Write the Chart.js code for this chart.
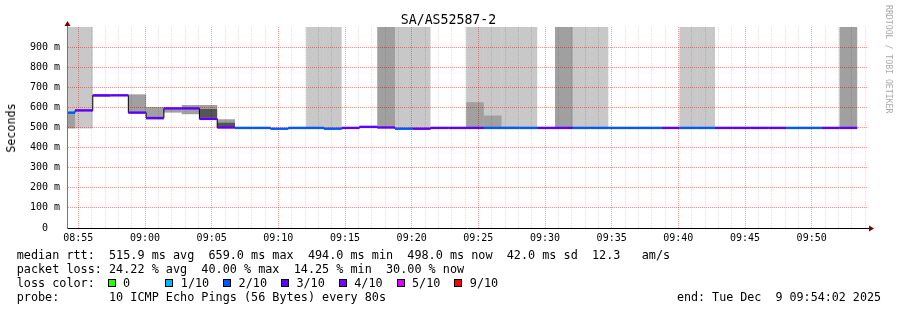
<!DOCTYPE html>
<html>
<head>
<meta charset="utf-8">
<script src="https://cdn.jsdelivr.net/npm/chart.js@4.4.1/dist/chart.umd.min.js"></script>
<style>
  html, body { margin: 0; padding: 0; background: #fff; }
  #wrap { position: relative; width: 897px; height: 310px; font-family: 'DejaVu Sans Mono', monospace; color: #000; overflow: hidden; }
  #wrap canvas { position: absolute; left: 0; top: 0; }
  .title { position: absolute; left: 0; width: 897px; top: 12px; text-align: center; font-size: 13.2px; line-height: 16px; }
  .ylabel { position: absolute; left: 10.5px; top: 127.5px; transform: translate(-50%, -50%) rotate(-90deg); font-size: 11.7px; white-space: nowrap; }
  .watermark { position: absolute; left: 884px; top: 5px; writing-mode: vertical-rl; font-size: 8.2px; line-height: 9px; color: #aaa; white-space: nowrap; }
  .legend { position: absolute; left: 16.7px; top: 248px; font-size: 11.8px; line-height: 14px; white-space: pre; }
  .end { position: absolute; right: 16px; top: 290px; font-size: 11.7px; line-height: 14px; white-space: pre; }
  .box { position: absolute; width: 8px; height: 8px; border: 1px solid #000; box-sizing: border-box; top: 278.5px; }
  .boxlabel { position: absolute; top: 276px; font-size: 11.8px; line-height: 14px; white-space: pre; }
</style>
</head>
<body>
<div id="wrap">
  <canvas id="chart" width="897" height="310"></canvas>
  <div class="title">SA/AS52587-2</div>
  <div class="ylabel">Seconds</div>
  <div class="watermark">RRDTOOL / TOBI OETIKER</div>
  <div class="legend" id="legend"></div>
  <div class="end">end: Tue Dec  9 09:54:02 2025</div>
</div>
<script>
// time range shown and rrd step
const rangeStart = '08:54:09';
const rangeSeconds = 3600;
const firstStepStart = '08:53:25';
const stepSeconds = 80;

const xTickLabels = ['08:55', '09:00', '09:05', '09:10', '09:15', '09:20', '09:25', '09:30', '09:35', '09:40', '09:45', '09:50'];
const yTickValues = [0, 100, 200, 300, 400, 500, 600, 700, 800, 900];
const yTickLabels = ['0  ', '100 m', '200 m', '300 m', '400 m', '500 m', '600 m', '700 m', '800 m', '900 m'];
const yMax = 1000;

// median rtt per step (ms)
const medianRtt = [
  574, 585, 660, 660, 574, 547, 595, 595, 543, 500,
  498, 498, 494, 498, 498, 494, 498, 503, 500, 494,
  494, 498, 498, 498, 498, 498, 498, 498, 498, 498,
  498, 498, 498, 498, 498, 498, 498, 498, 498, 498,
  498, 498, 498, 498, 498,
];
// lost pings per step (out of 10)
const lossTenths = [
  2, 3, 3, 3, 3, 3, 3, 3, 3, 3,
  2, 2, 2, 2, 2, 2, 3, 3, 3, 2,
  3, 3, 3, 3, 2, 2, 2, 3, 3, 2,
  2, 2, 2, 2, 3, 2, 2, 3, 3, 3,
  3, 2, 2, 3, 3,
];
// smoke: [step, low ms, high ms]
const smokeLight = [
  [0, 574, 1000], [1, 495, 1000], [14, 497, 1000], [15, 497, 1000], [19, 495, 1000], [20, 495, 1000],
  [23, 626, 1000], [24, 560, 1000], [25, 505, 1000], [26, 498, 1000], [29, 498, 1000], [30, 498, 1000],
  [35, 498, 1000], [36, 498, 1000],
];
const smokeMid = [
  [0, 495, 574], [2, 652, 660], [4, 574, 665], [5, 540, 602], [6, 574, 592], [7, 566, 612],
  [8, 592, 612], [9, 525, 541], [18, 500, 1000], [23, 498, 626], [24, 498, 560], [25, 498, 505],
  [28, 498, 1000], [44, 498, 1000],
];
const smokeDark = [
  [8, 548, 592], [9, 500, 525],
];

const lossLabels = ['0', '1/10', '2/10', '3/10', '4/10', '5/10', '9/10'];
const lossColors = ['#26ff00', '#00b8ff', '#0059ff', '#5e00ff', '#7e00ff', '#dd00ff', '#ff0000'];
const lossIndex = [0, 1, 2, 3, 4, 5, 5, 5, 5, 6, 6];

const legendRows = [
  'median rtt:  515.9 ms avg  659.0 ms max  494.0 ms min  498.0 ms now  42.0 ms sd  12.3   am/s',
  'packet loss: 24.22 % avg  40.00 % max  14.25 % min  30.00 % now',
  'loss color:',
  'probe:       10 ICMP Echo Pings (56 Bytes) every 80s',
];

// legend text
const wrap = document.getElementById('wrap');
document.getElementById('legend').textContent = legendRows.join('\n');
lossLabels.forEach((label, i) => {
  const box = document.createElement('div');
  box.className = 'box';
  box.style.left = (107.5 + 57.8 * i) + 'px';
  box.style.background = lossColors[i];
  wrap.appendChild(box);
  const txt = document.createElement('div');
  txt.className = 'boxlabel';
  txt.style.left = (123 + 57.8 * i) + 'px';
  txt.textContent = label;
  wrap.appendChild(txt);
});

const toSec = t => {
  const [h, m, s = 0] = t.split(':').map(Number);
  return h * 3600 + m * 60 + s;
};
const t0 = toSec(rangeStart);
const stepStart = s => toSec(firstStepStart) - t0 + s * stepSeconds;
const majorTicks = xTickLabels.map(l => toSec(l) - t0);
const minorTicks = [];
for (let t = majorTicks[0]; t <= rangeSeconds; t += 60) minorTicks.push(t);

const plotWidth = 800;
const stepPx = stepSeconds * plotWidth / rangeSeconds;

const majorGrid = 'rgba(255,0,0,0.4)';
const minorGrid = 'rgba(130,130,130,0.25)';
const medianColor = s => lossColors[lossIndex[lossTenths[s]]];

function smokeDataset(rows, color, order) {
  return {
    type: 'bar',
    data: rows.map(([s, lo, hi]) => ({ x: stepStart(s) + stepSeconds / 2, y: [lo, hi] })),
    backgroundColor: color,
    borderWidth: 0,
    inflateAmount: 0,
    grouped: false,
    barThickness: stepPx,
    order,
    clip: 0,
  };
}

// median line, one flat piece per step
const medianSegments = [];
medianRtt.forEach((v, s) => {
  medianSegments.push({ x: stepStart(s), y: v }, { x: stepStart(s + 1), y: v }, { x: stepStart(s + 1), y: null });
});
// thin black connector between steps
const medianSteps = medianRtt.map((v, s) => ({ x: stepStart(s), y: v }));
medianSteps.push({ x: stepStart(medianRtt.length), y: medianRtt[medianRtt.length - 1] });

const axisArrows = {
  id: 'axisArrows',
  afterDraw(chart) {
    const { ctx, chartArea: a } = chart;
    ctx.save();
    ctx.lineWidth = 1;
    ctx.strokeStyle = '#777';
    ctx.beginPath();
    ctx.moveTo(a.left + 0.5, a.top);
    ctx.lineTo(a.left + 0.5, a.top - 2);
    ctx.stroke();
    ctx.strokeStyle = '#000';
    ctx.beginPath();
    ctx.moveTo(a.right, a.bottom + 0.5);
    ctx.lineTo(a.right + 2, a.bottom + 0.5);
    ctx.stroke();
    ctx.fillStyle = '#7f0000';
    ctx.beginPath();
    ctx.moveTo(a.left - 2.5, a.top - 1);
    ctx.lineTo(a.left + 3.5, a.top - 1);
    ctx.lineTo(a.left + 0.5, a.top - 6);
    ctx.closePath();
    ctx.fill();
    ctx.beginPath();
    ctx.moveTo(a.right + 2, a.bottom - 2.5);
    ctx.lineTo(a.right + 2, a.bottom + 3.5);
    ctx.lineTo(a.right + 7, a.bottom + 0.5);
    ctx.closePath();
    ctx.fill();
    ctx.restore();
  },
};

Chart.defaults.font.family = "'DejaVu Sans Mono', monospace";
Chart.defaults.color = '#000';

new Chart(document.getElementById('chart'), {
  type: 'line',
  data: {
    datasets: [
      {
        type: 'line',
        data: medianSegments,
        borderWidth: 2.4,
        borderColor: lossColors[3],
        spanGaps: false,
        pointRadius: 0,
        segment: { borderColor: c => medianColor(Math.floor(c.p0DataIndex / 3)) },
        order: 0,
        clip: 0,
      },
      {
        type: 'line',
        data: medianSteps,
        stepped: true,
        borderWidth: 1,
        borderColor: '#000',
        pointRadius: 0,
        order: 1,
        clip: 0,
      },
      smokeDataset(smokeDark, 'rgba(0,0,0,0.667)', 2),
      smokeDataset(smokeMid, 'rgba(0,0,0,0.373)', 3),
      smokeDataset(smokeLight, 'rgba(0,0,0,0.216)', 4),
    ],
  },
  options: {
    responsive: false,
    animation: false,
    events: [],
    layout: { padding: { top: 27, right: 30, left: 0, bottom: 0 } },
    plugins: { legend: { display: false }, tooltip: { enabled: false } },
    scales: {
      x: {
        type: 'linear',
        min: 0,
        max: rangeSeconds,
        offset: false,
        afterFit: s => { s.height = 82; },
        afterBuildTicks: s => { s.ticks = minorTicks.map(v => ({ value: v })); },
        ticks: {
          autoSkip: false,
          maxRotation: 0,
          padding: 4,
          font: { size: 10 },
          callback: v => {
            const i = majorTicks.indexOf(v);
            return i >= 0 ? xTickLabels[i] : '';
          },
        },
        grid: {
          drawTicks: false,
          offset: false,
          color: c => (c.tick && majorTicks.includes(c.tick.value) ? majorGrid : minorGrid),
        },
        border: { color: '#000', dash: [1, 1], z: 2 },
      },
      y: {
        min: 0,
        max: yMax,
        afterFit: s => { s.width = 67; },
        afterBuildTicks: s => {
          const t = [];
          for (let v = 0; v < yMax; v += 50) t.push({ value: v });
          s.ticks = t;
        },
        ticks: {
          padding: 7,
          font: { size: 10 },
          callback: v => {
            const i = yTickValues.indexOf(v);
            return i >= 0 ? yTickLabels[i] : '';
          },
        },
        grid: {
          drawTicks: false,
          color: c => (c.tick && yTickValues.includes(c.tick.value) ? majorGrid : minorGrid),
        },
        border: { color: '#777', dash: [1, 1], z: 2 },
      },
    },
  },
  plugins: [axisArrows],
});
</script>
</body>
</html>
